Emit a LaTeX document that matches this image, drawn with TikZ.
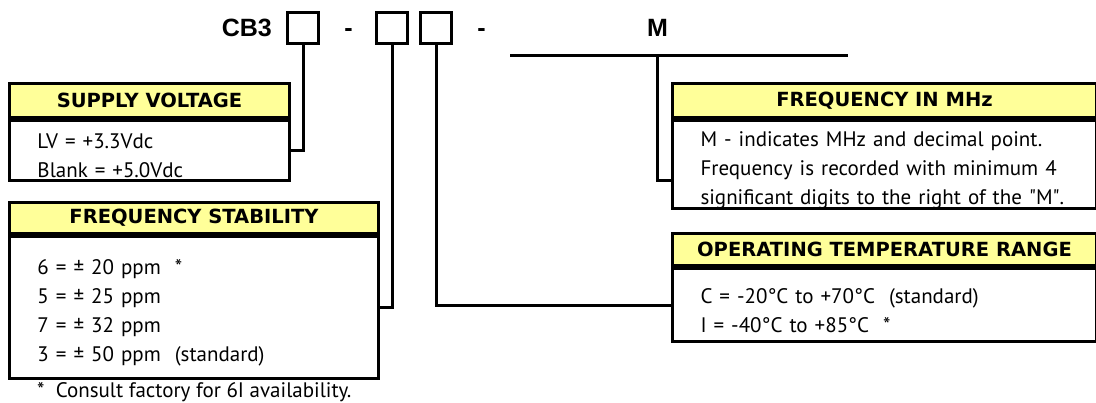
\documentclass[tikz,border=0pt]{standalone}
\usepackage{fontspec}
\setmainfont{PT Sans}
\newfontfamily\partfont{Liberation Sans}
\newfontfamily\captionfont{DejaVu Sans}
\usepackage{tikz}
\usepackage{xcolor}
\usetikzlibrary{positioning}
\definecolor{tagyellow}{RGB}{255,255,153}

\begin{document}
\begin{tikzpicture}[
  x=1pt, y=-1pt,
  headbox/.style={
    draw, line width=3pt, fill=tagyellow, inner sep=0pt,
    font=\captionfont\fontsize{19.5}{24}\selectfont\bfseries, anchor=north west
  },
  bodybox/.style={
    draw, line width=3pt, inner xsep=28pt, inner ysep=0pt, align=left,
    font=\fontsize{21}{29}\selectfont, execute at begin node={\rule{0pt}{26pt}}
  },
  slot/.style={draw, line width=3pt, minimum size=31pt, inner sep=0pt},
  code/.style={font=\partfont\fontsize{25}{30}\selectfont\bfseries, inner sep=0pt, anchor=base},
  wire/.style={line width=3pt},
  sepline/.style={line width=6pt}
]
\useasboundingbox (0,0) rectangle (1096,402);

% part number
\node[slot] (volt) at (303,27.5) {};
\node[slot] (stab) at (392,27.5) {};
\node[slot] (temp) at (436,27.5) {};
\node[code, anchor=base east] (cb) at (272,36) {CB3};
\node[code] (dashA) at (348.5,36) {-};
\node[code] (dashB) at (481.5,36) {-};
\node[code] (mhz) at (657.5,36) {M};
\coordinate (lineL) at (510,55);
\coordinate (lineR) at (848,55);
\coordinate (lineJ) at (657,55);
\draw[wire] (lineL) -- (lineR);

% supply voltage
\node[headbox, minimum width=280pt, minimum height=34pt] (supplyhead) at (8,82) {SUPPLY VOLTAGE};
\node[bodybox, minimum width=280pt, minimum height=60pt, text width=224pt,
  below right=0pt and 0pt of supplyhead.south west] (supplybody) {LV = +3.3Vdc\\Blank = +5.0Vdc};
\draw[sepline] (supplyhead.south west) -- (supplyhead.south east);

% frequency stability
\node[headbox, minimum width=369pt, minimum height=31pt] (stabhead) at (8,201) {FREQUENCY STABILITY};
\node[bodybox, minimum width=369pt, minimum height=142pt, text width=313pt,
  below right=0pt and 0pt of stabhead.south west] (stabbody)
  {6 = ± 20 ppm\ \ *\\5 = ± 25 ppm\\7 = ± 32 ppm\\3 = ± 50 ppm\ \ (standard)};
\draw[sepline] (stabhead.south west) -- (stabhead.south east);
\node[anchor=base west, inner sep=0pt, font=\fontsize{21}{29}\selectfont] (note) at (37,397)
  {*\ \ Consult factory for 6I availability.};

% frequency in MHz
\node[headbox, minimum width=424pt, minimum height=34pt] (freqhead) at (671,82) {FREQUENCY IN MHz};
\node[bodybox, minimum width=424pt, minimum height=86pt, text width=368pt,
  below right=0pt and 0pt of freqhead.south west] (freqbody)
  {M - indicates MHz and decimal point.\\Frequency is recorded with minimum 4\\significant digits to the right of the \textquotedbl M\textquotedbl.};
\draw[sepline] (freqhead.south west) -- (freqhead.south east);

% operating temperature
\node[headbox, minimum width=424pt, minimum height=32pt] (temphead) at (671,232) {OPERATING TEMPERATURE RANGE};
\node[bodybox, minimum width=424pt, minimum height=73pt, text width=368pt,
  below right=0pt and 0pt of temphead.south west] (tempbody)
  {C = -20°C to +70°C\ \ (standard)\\I = -40°C to +85°C\ \ *};
\draw[sepline] (temphead.south west) -- (temphead.south east);

% leaders
\draw[wire] (volt.south) |- (supplybody.east);
\draw[wire] (stab.south) |- (stabbody.east);
\draw[wire] (temp.south) |- (tempbody.west);
\draw[wire] (lineJ) |- ([yshift=-16pt]freqbody.west);
\end{tikzpicture}
\end{document}
